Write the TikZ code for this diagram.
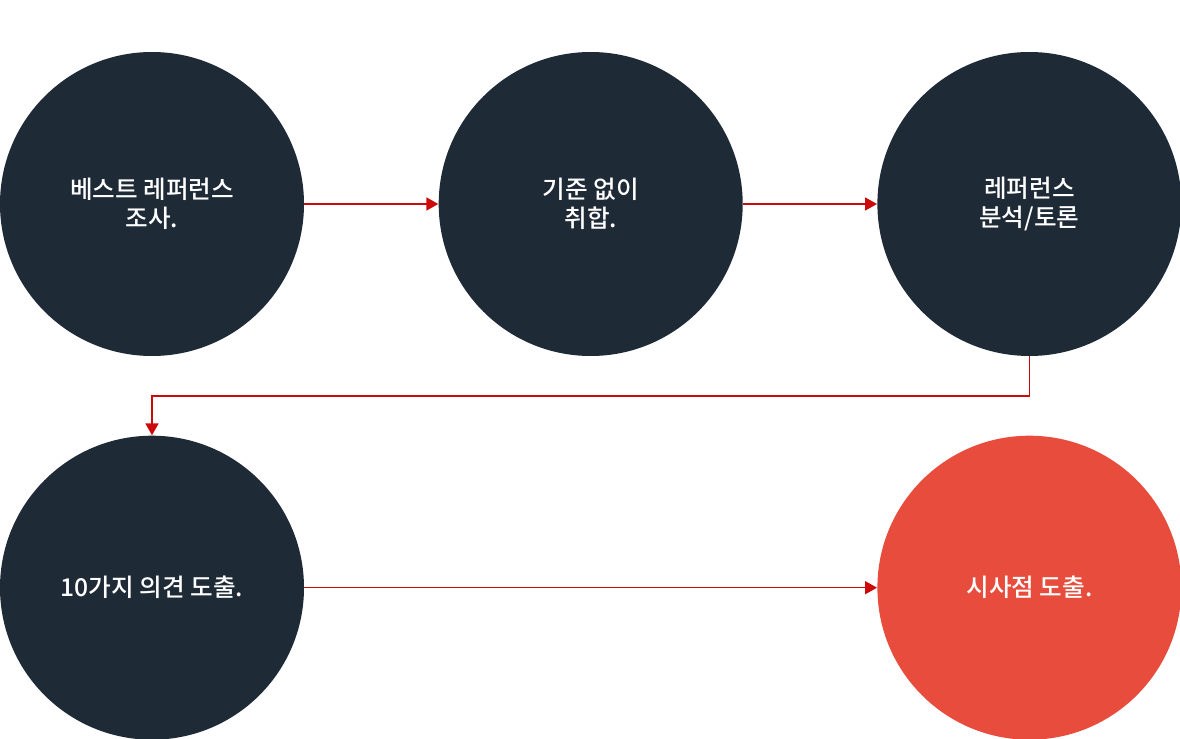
\documentclass[tikz,border=0pt]{standalone}
\usepackage{fontspec}
\setmainfont{Noto Sans CJK KR}[UprightFont=* Medium]
\usepackage{tikz}
\usetikzlibrary{arrows.meta, positioning, calc}
\definecolor{stepnavy}{HTML}{1F2A37}
\definecolor{stepred}{HTML}{E74C3C}
\definecolor{linkred}{HTML}{CC0A0A}

\begin{document}
\begin{tikzpicture}[
  >={Triangle[length=2.4mm, width=2.6mm]},
  stage/.style={circle, fill=stepnavy, minimum size=6.08cm, inner sep=0pt,
                text=white, align=center, font=\fontsize{14pt}{16.5pt}\selectfont},
  goal/.style={stage, fill=stepred},
  link/.style={draw=linkred, line width=0.9pt, ->}
]
  \useasboundingbox (-3.04,4.08) rectangle (20.56,-10.70);
  \node[stage] (c1) at (0,0) {베스트 레퍼런스\\조사.};
  \node[stage, right=2.68cm of c1] (c2) {기준 없이\\취합.};
  \node[stage, right=2.68cm of c2] (c3) {레퍼런스\\분석/토론};
  \node[stage, below=1.58cm of c1] (c4) {10가지 의견 도출.};
  \node[goal, below=1.58cm of c3] (c5) {시사점 도출.};
  \coordinate (turn) at ($(c3.south)!0.5!(c5.north)$);
  \draw[link] (c1) -- (c2);
  \draw[link] (c2) -- (c3);
  \draw[link] (c3.south) -- (turn) -| (c4.north);
  \draw[link] (c4) -- (c5);
\end{tikzpicture}
\end{document}
